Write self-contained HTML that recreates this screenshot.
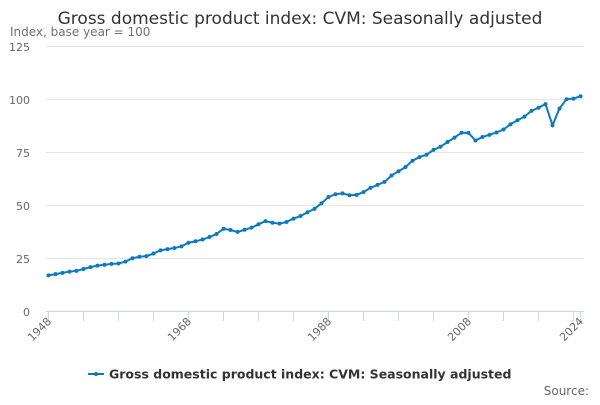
<!DOCTYPE html>
<html><head><meta charset="utf-8"><style>
body{margin:0;background:#fff;font-family:"Liberation Sans","DejaVu Sans",sans-serif}
</style></head><body>
<svg width="600" height="400" xmlns="http://www.w3.org/2000/svg" font-family="DejaVu Sans, Liberation Sans, sans-serif">
<rect width="600" height="400" fill="#fff"/>
<text x="300" y="24" text-anchor="middle" font-size="17" fill="#333">Gross domestic product index: CVM: Seasonally adjusted</text>
<text x="10" y="36" font-size="12" fill="#707070">Index, base year = 100</text>
<g stroke="#e6e6e6" stroke-width="1">
<line x1="46" x2="584" y1="46.5" y2="46.5"/>
<line x1="46" x2="584" y1="99.5" y2="99.5"/>
<line x1="46" x2="584" y1="152.5" y2="152.5"/>
<line x1="46" x2="584" y1="205.5" y2="205.5"/>
<line x1="46" x2="584" y1="258.5" y2="258.5"/>
</g>
<g font-size="11" fill="#666" text-anchor="end">
<text x="30" y="51">125</text><text x="30" y="104">100</text><text x="30" y="157">75</text>
<text x="30" y="210">50</text><text x="30" y="263">25</text><text x="30" y="316">0</text>
</g>
<line x1="46" x2="584" y1="311.5" y2="311.5" stroke="#ccd6eb"/>
<g id="ticks" stroke="#ccd6eb"></g>
<g font-size="11" fill="#666" text-anchor="end">
<text transform="translate(52,322) rotate(-45)">1948</text>
<text transform="translate(192,322) rotate(-45)">1968</text>
<text transform="translate(332,322) rotate(-45)">1988</text>
<text transform="translate(472,322) rotate(-45)">2008</text>
<text transform="translate(584,322) rotate(-45)">2024</text>
</g>
<polyline id="line" fill="none" stroke="#0a7bc1" stroke-width="2"/>
<g id="dots" fill="#0a7bc1"></g>
<line x1="88" x2="104" y1="374" y2="374" stroke="#0a7bc1" stroke-width="2"/>
<circle cx="96" cy="374" r="2" fill="#0a7bc1"/>
<text x="109" y="378.5" font-size="12.5" font-weight="bold" fill="#333">Gross domestic product index: CVM: Seasonally adjusted</text>
<text x="589" y="395" font-size="12" fill="#666" text-anchor="end">Source:</text>
</svg>
<script>
var d=[16.8,17.4,18.0,18.6,18.9,19.8,20.7,21.4,21.8,22.2,22.4,23.3,24.9,25.6,25.9,27.1,28.6,29.2,29.7,30.5,32.2,32.9,33.7,34.9,36.3,38.8,38.2,37.3,38.3,39.3,40.9,42.4,41.6,41.2,42.0,43.6,44.8,46.6,48.2,50.8,53.8,55.1,55.5,54.6,54.8,56.1,58.1,59.5,60.9,63.9,65.9,67.9,70.9,72.6,73.7,76.0,77.5,79.7,81.8,84.1,84.0,80.4,82.1,83.1,84.2,85.6,88.1,90.0,91.7,94.4,95.9,97.6,87.6,95.5,99.9,100.2,101.3];
var pts=[],dots="",t="";
d.forEach(function(v,i){var x=48.5+i*7,y=311-v*2.12;pts.push(x+","+y);dots+='<circle cx="'+x+'" cy="'+y+'" r="2"/>';});
for(var i=0;i<=76;i+=5){var x=48.5+i*7;t+='<line x1="'+x+'" x2="'+x+'" y1="311" y2="321"/>';}
t+='<line x1="580.5" x2="580.5" y1="311" y2="321"/>';
document.getElementById("line").setAttribute("points",pts.join(" "));
document.getElementById("dots").innerHTML=dots;
document.getElementById("ticks").innerHTML=t;
</script>
</body></html>
